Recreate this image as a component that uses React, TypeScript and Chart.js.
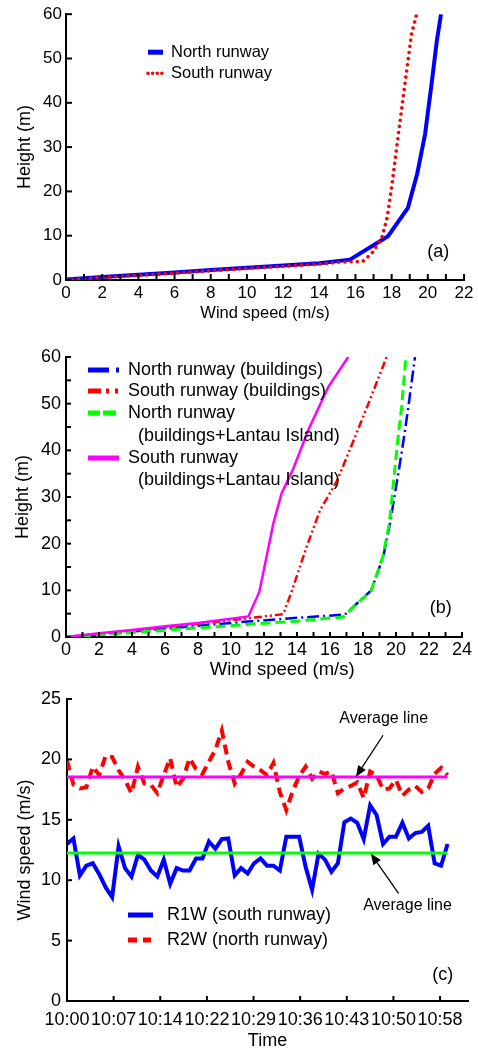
import React, { useEffect, useRef } from 'react';
import { Chart, registerables } from 'chart.js';

Chart.register(...registerables);

const FONT = '"Liberation Sans", Arial, Helvetica, sans-serif';

// ---------- Panel (a) ----------
const northSpeedA = [0, 2, 4, 6, 8, 10, 12, 14, 15.7, 17.8, 18.9, 19.42, 19.85, 20.2, 20.5, 20.73];
const northHeightA = [0.1, 0.7, 1.2, 1.7, 2.25, 2.75, 3.25, 3.8, 4.6, 9.9, 16.3, 24.1, 33, 44, 54, 60];
const southSpeedA = [0, 2, 4, 6, 8, 10, 12, 14, 15, 16.4, 16.9, 17.45, 17.75, 18.0, 18.28, 18.55, 18.85, 19.1, 19.38];
const southHeightA = [0, 0.55, 1.05, 1.55, 2.1, 2.6, 3.1, 3.6, 4.0, 4.2, 6.0, 9.4, 14, 21, 30, 38.5, 48, 55.5, 60];

// ---------- Panel (b) ----------
const northBldSpeed = [0, 4, 8, 11, 14, 16.9, 18.5, 19.23, 19.64, 19.9, 20.14, 20.45, 20.75, 21.15];
const northBldHeight = [0, 1.2, 2.4, 3.3, 4.1, 4.8, 10, 17.2, 24.4, 30, 35, 42, 49.3, 60];
const southBldSpeed = [0, 4, 8, 11, 13.17, 13.64, 14.59, 15.4, 16.4, 17.2, 18.42, 19.43];
const southBldHeight = [0, 1.4, 2.8, 4.0, 4.9, 9.4, 19.4, 27.2, 33.3, 40.1, 50.8, 60];
const northLantauSpeed = [0, 4, 8, 11, 14, 16.8, 18.5, 19.2, 19.6, 19.9, 20.1, 20.34, 20.6];
const northLantauHeight = [0, 0.95, 1.95, 2.7, 3.4, 4.3, 10, 17.2, 24.4, 35, 42, 49.3, 60];
const southLantauSpeed = [0, 2, 4, 6, 8, 11.05, 11.72, 12.57, 13.07, 13.78, 14.69, 15.9, 17.1];
const southLantauHeight = [0, 0.8, 1.5, 2.3, 3.0, 4.4, 9.7, 24.4, 30.8, 36.1, 44.4, 53.6, 60];

// ---------- Panel (c) ----------
const minutesC = [
  0, 1, 2, 3, 4, 5, 6, 7, 8, 9, 10, 11, 12, 13, 14, 15, 16, 17, 18, 19,
  20, 21, 22, 23, 24, 25, 26, 27, 28, 29, 30, 31, 32, 33, 34, 35, 36, 37, 38, 39,
  40, 41, 42, 43, 44, 45, 46, 47, 48, 49, 50, 51, 52, 53, 54, 55, 56, 57, 58, 59,
];
const r1wSpeed = [
  13.0, 13.45, 10.4, 11.2, 11.4, 10.5, 9.4, 8.6, 12.8, 11.0,
  10.3, 12.1, 11.7, 10.8, 10.3, 11.7, 9.7, 11.0, 10.8, 10.8,
  11.8, 11.8, 13.2, 12.6, 13.4, 13.45, 10.4, 11.0, 10.55, 11.4,
  11.8, 11.2, 11.2, 10.8, 13.6, 13.6, 13.6, 11.1, 9.2, 12.2,
  11.7, 10.7, 11.4, 14.8, 15.1, 14.75, 13.4, 16.2, 15.4, 13.0,
  13.6, 13.6, 14.75, 13.45, 13.9, 14.0, 14.5, 11.4, 11.2, 13.0,
];
const r2wSpeed = [
  19.9, 17.9, 17.6, 17.7, 19.4, 18.7, 20.3, 20.2, 19.1, 18.3,
  17.2, 19.4, 18.0, 17.9, 17.2, 18.7, 20.1, 17.7, 18.4, 20.1,
  19.2, 18.8, 19.8, 20.8, 22.4, 19.8, 18.0, 18.8, 19.8, 19.4,
  19.1, 18.7, 19.7, 17.3, 15.8, 17.4, 18.6, 19.4, 18.4, 19.0,
  18.8, 19.0, 17.2, 17.6, 17.8, 18.1, 16.8, 19.0, 18.7, 17.5,
  17.6, 18.3, 17.0, 17.5, 17.8, 17.3, 17.6, 18.8, 19.3, 18.7,
];
const averageR1W = 12.25;
const averageR2W = 18.55;
const averageSpan = [0, 59];
const timeTickMinutes = [0, 7.23, 14.46, 21.69, 28.92, 36.15, 43.38, 50.61, 57.84];
const timeTickLabels = ['10:00', '10:07', '10:14', '10:22', '10:29', '10:36', '10:43', '10:50', '10:58'];

const pts = (xs: number[], ys: number[]) => xs.map((x, i) => ({ x, y: ys[i] }));

// ---------- plugin: inward ticks, legends, panel labels, annotations ----------
type Sample = { color: string; width: number; dash: number[]; cap?: CanvasLineCap };
type Row = { text: string; indent?: number; sample?: Sample };
type Decor = {
  tickLen: number;
  legend?: { fontSize: number; sampleStart: number; sampleEnd: number; textStart: number; rowOffsets: number[]; rows: Row[] };
  texts?: { text: string; x: number; y: number; size: number }[];
  arrows?: { x1: number; y1: number; x2: number; y2: number }[];
};

const drawInwardTicks = (chart: any, len: number) => {
  const ctx: CanvasRenderingContext2D = chart.ctx;
  const area = chart.chartArea;
  const xs = chart.scales.x;
  const ys = chart.scales.y;
  ctx.save();
  ctx.setLineDash([]);
  ctx.strokeStyle = '#000';
  ctx.lineWidth = 2;
  ctx.lineCap = 'butt';
  for (const t of xs.ticks) {
    const p = xs.getPixelForValue(Number(t.value));
    ctx.beginPath();
    ctx.moveTo(p, area.bottom);
    ctx.lineTo(p, area.bottom - len);
    ctx.stroke();
  }
  for (const t of ys.ticks) {
    const p = ys.getPixelForValue(Number(t.value));
    ctx.beginPath();
    ctx.moveTo(area.left, p);
    ctx.lineTo(area.left + len, p);
    ctx.stroke();
  }
  ctx.restore();
};

const makeDecor = (d: Decor) => ({
  id: 'panelDecor',
  afterDraw(chart: any) {
    drawInwardTicks(chart, d.tickLen);
    const { ctx, chartArea } = chart;
    const xs = chart.scales.x;
    const ys = chart.scales.y;
    ctx.save();
    ctx.fillStyle = '#000';
    ctx.textBaseline = 'middle';
    if (d.legend) {
      const L = d.legend;
      ctx.font = `${L.fontSize}px ${FONT}`;
      ctx.textAlign = 'left';
      L.rows.forEach((r, i) => {
        const y = chartArea.top + L.rowOffsets[i];
        if (r.sample) {
          ctx.beginPath();
          ctx.strokeStyle = r.sample.color;
          ctx.lineWidth = r.sample.width;
          ctx.lineCap = r.sample.cap || 'butt';
          ctx.setLineDash(r.sample.dash);
          ctx.moveTo(chartArea.left + L.sampleStart, y);
          ctx.lineTo(chartArea.left + L.sampleEnd, y);
          ctx.stroke();
          ctx.setLineDash([]);
          ctx.lineCap = 'butt';
        }
        ctx.fillStyle = '#000';
        ctx.fillText(r.text, chartArea.left + L.textStart + (r.indent || 0), y);
      });
    }
    (d.texts || []).forEach((t) => {
      ctx.font = `${t.size}px ${FONT}`;
      ctx.textAlign = 'center';
      ctx.fillStyle = '#000';
      ctx.fillText(t.text, xs.getPixelForValue(t.x), ys.getPixelForValue(t.y));
    });
    (d.arrows || []).forEach((a) => {
      const x1 = xs.getPixelForValue(a.x1);
      const y1 = ys.getPixelForValue(a.y1);
      const x2 = xs.getPixelForValue(a.x2);
      const y2 = ys.getPixelForValue(a.y2);
      const ang = Math.atan2(y2 - y1, x2 - x1);
      const hl = 11;
      const hw = 4.5;
      const bx = x2 - hl * Math.cos(ang);
      const by = y2 - hl * Math.sin(ang);
      ctx.strokeStyle = '#000';
      ctx.lineWidth = 1.3;
      ctx.beginPath();
      ctx.moveTo(x1, y1);
      ctx.lineTo(bx, by);
      ctx.stroke();
      ctx.beginPath();
      ctx.moveTo(x2, y2);
      ctx.lineTo(bx + hw * Math.sin(ang), by - hw * Math.cos(ang));
      ctx.lineTo(bx - hw * Math.sin(ang), by + hw * Math.cos(ang));
      ctx.closePath();
      ctx.fill();
    });
    ctx.restore();
  },
});

const axisBase = (size: number, pad: number) => ({
  type: 'linear' as const,
  grid: { display: false, drawTicks: false },
  border: { display: true, color: '#000', width: 2 },
  ticks: { autoSkip: false, maxRotation: 0, minRotation: 0, padding: pad, color: '#000', font: { family: FONT, size } },
});

// ---------- configs ----------
const configA = (): any => ({
  type: 'line',
  data: {
    datasets: [
      {
        label: 'South runway', data: pts(southSpeedA, southHeightA), borderColor: '#ff0000',
        borderWidth: 3.6, borderDash: [0.01, 6.2], borderCapStyle: 'round', pointRadius: 0, order: 0,
      },
      {
        label: 'North runway', data: pts(northSpeedA, northHeightA), borderColor: '#0000ff',
        borderWidth: 4, pointRadius: 0, order: 1,
      },
    ],
  },
  options: {
    animation: false, responsive: false, maintainAspectRatio: false,
    layout: { padding: { left: 0, right: 14, top: 14, bottom: 0 } },
    plugins: { legend: { display: false }, tooltip: { enabled: false } },
    scales: {
      x: {
        ...axisBase(17, 3), min: 0, max: 22,
        ticks: { ...axisBase(17, 3).ticks, stepSize: 1, callback: (v: number) => (v % 2 === 0 ? String(v) : '') },
        title: { display: true, text: 'Wind speed (m/s)', color: '#000', font: { family: FONT, size: 16.5 }, padding: { top: 0, bottom: 7 } },
        afterFit: (s: any) => { s.height = 50; },
      },
      y: {
        ...axisBase(17, 4), min: 0, max: 60,
        ticks: { ...axisBase(17, 4).ticks, stepSize: 10 },
        title: { display: true, text: 'Height (m)', color: '#000', font: { family: FONT, size: 18 }, padding: { top: 14, bottom: 0 } },
        afterFit: (s: any) => { s.width = 66; },
      },
    },
  },
  plugins: [
    makeDecor({
      tickLen: 6,
      legend: {
        fontSize: 16.5, sampleStart: 82, sampleEnd: 97, textStart: 105, rowOffsets: [38, 59],
        rows: [
          { text: 'North runway', sample: { color: '#0000ff', width: 5, dash: [] } },
          { text: 'South runway', sample: { color: '#ff0000', width: 3.6, dash: [0.01, 4.6], cap: 'round' } },
        ],
      },
      texts: [{ text: '(a)', x: 20.58, y: 6.25, size: 18 }],
    }),
  ],
});

const configB = (): any => ({
  type: 'line',
  data: {
    datasets: [
      {
        label: 'South runway (buildings+Lantau Island)', data: pts(southLantauSpeed, southLantauHeight),
        borderColor: '#ff00ff', borderWidth: 2.5, pointRadius: 0, order: 0,
      },
      {
        label: 'North runway (buildings+Lantau Island)', data: pts(northLantauSpeed, northLantauHeight),
        borderColor: '#00ff00', borderWidth: 3, borderDash: [10, 5], pointRadius: 0, order: 1,
      },
      {
        label: 'South runway (buildings)', data: pts(southBldSpeed, southBldHeight),
        borderColor: '#ff0000', borderWidth: 2.5, borderDash: [8, 3, 2, 3, 2, 3], pointRadius: 0, order: 2,
      },
      {
        label: 'North runway (buildings)', data: pts(northBldSpeed, northBldHeight),
        borderColor: '#0000ff', borderWidth: 2.5, borderDash: [12, 4, 2, 4], pointRadius: 0, order: 3,
      },
    ],
  },
  options: {
    animation: false, responsive: false, maintainAspectRatio: false,
    layout: { padding: { left: 0, right: 16, top: 27, bottom: 0 } },
    plugins: { legend: { display: false }, tooltip: { enabled: false } },
    scales: {
      x: {
        ...axisBase(18, 2), min: 0, max: 24,
        ticks: { ...axisBase(18, 2).ticks, stepSize: 1, callback: (v: number) => (v % 2 === 0 ? String(v) : '') },
        title: { display: false, text: 'Wind speed (m/s)' },
        afterFit: (s: any) => { s.height = 43; },
      },
      y: {
        ...axisBase(18, 5), min: 0, max: 60,
        ticks: { ...axisBase(18, 5).ticks, stepSize: 5, callback: (v: number) => (v % 10 === 0 ? String(v) : '') },
        title: { display: true, text: 'Height (m)', color: '#000', font: { family: FONT, size: 18 }, padding: { top: 12, bottom: 0 } },
        afterFit: (s: any) => { s.width = 66; },
      },
    },
  },
  plugins: [
    makeDecor({
      tickLen: 5,
      legend: {
        fontSize: 18, sampleStart: 22, sampleEnd: 53, textStart: 62, rowOffsets: [13, 34, 56, 79, 101, 123],
        rows: [
          { text: 'North runway (buildings)', sample: { color: '#0000ff', width: 5, dash: [21, 7, 3, 100] } },
          { text: 'South runway (buildings)', sample: { color: '#ff0000', width: 5, dash: [13, 5, 3, 6, 3, 100] } },
          { text: 'North runway', sample: { color: '#00ff00', width: 5, dash: [12, 3, 13, 100] } },
          { text: '(buildings+Lantau Island)', indent: 10 },
          { text: 'South runway', sample: { color: '#ff00ff', width: 5, dash: [] } },
          { text: '(buildings+Lantau Island)', indent: 10 },
        ],
      },
      texts: [
        { text: '(b)', x: 22.71, y: 6.15, size: 18 },
        { text: 'Wind speed (m/s)', x: 13.1, y: -7.0, size: 18.5 },
      ],
    }),
  ],
});

const configC = (): any => ({
  type: 'line',
  data: {
    datasets: [
      {
        label: 'Average R2W', data: pts(averageSpan, [averageR2W, averageR2W]),
        borderColor: '#ff00ff', borderWidth: 3, pointRadius: 0, order: 0,
      },
      {
        label: 'Average R1W', data: pts(averageSpan, [averageR1W, averageR1W]),
        borderColor: '#00ff00', borderWidth: 3, pointRadius: 0, order: 1,
      },
      {
        label: 'R1W (south runway)', data: pts(minutesC, r1wSpeed),
        borderColor: '#0000ff', borderWidth: 4, pointRadius: 0, order: 2,
      },
      {
        label: 'R2W (north runway)', data: pts(minutesC, r2wSpeed),
        borderColor: '#ff0000', borderWidth: 4, borderDash: [10, 6], pointRadius: 0, order: 3,
      },
    ],
  },
  options: {
    animation: false, responsive: false, maintainAspectRatio: false,
    layout: { padding: { left: 0, right: 10, top: 19, bottom: 0 } },
    plugins: { legend: { display: false }, tooltip: { enabled: false } },
    scales: {
      x: {
        ...axisBase(18, 8), min: 0, max: 62.17,
        afterBuildTicks: (s: any) => { s.ticks = timeTickMinutes.map((v) => ({ value: v })); },
        ticks: { ...axisBase(18, 8).ticks, callback: (_v: number, i: number) => timeTickLabels[i] },
        title: { display: true, text: 'Time', color: '#000', font: { family: FONT, size: 18 }, padding: { top: 0, bottom: 0 } },
        afterFit: (s: any) => { s.height = 51; },
      },
      y: {
        ...axisBase(18, 6), min: 0, max: 25,
        ticks: { ...axisBase(18, 6).ticks, stepSize: 5 },
        title: { display: true, text: 'Wind speed (m/s)', color: '#000', font: { family: FONT, size: 18 }, padding: { top: 14, bottom: 0 } },
        afterFit: (s: any) => { s.width = 67; },
      },
    },
  },
  plugins: [
    makeDecor({
      tickLen: 5,
      legend: {
        fontSize: 18, sampleStart: 61, sampleEnd: 86, textStart: 100, rowOffsets: [216, 241],
        rows: [
          { text: 'R1W (south runway)', sample: { color: '#0000ff', width: 5, dash: [] } },
          { text: 'R2W (north runway)', sample: { color: '#ff0000', width: 5, dash: [9, 6, 8, 100] } },
        ],
      },
      texts: [
        { text: 'Average line', x: 49.1, y: 23.34, size: 16 },
        { text: 'Average line', x: 52.8, y: 7.93, size: 16 },
        { text: '(c)', x: 58.25, y: 2.13, size: 18 },
      ],
      arrows: [
        { x1: 49.0, y1: 22.0, x2: 44.8, y2: 18.56 },
        { x1: 51.4, y1: 8.9, x2: 47.1, y2: 12.2 },
      ],
    }),
  ],
});

export default function App() {
  const refA = useRef<HTMLCanvasElement>(null);
  const refB = useRef<HTMLCanvasElement>(null);
  const refC = useRef<HTMLCanvasElement>(null);

  useEffect(() => {
    const charts: Chart[] = [];
    if (refA.current) charts.push(new Chart(refA.current, configA()));
    if (refB.current) charts.push(new Chart(refB.current, configB()));
    if (refC.current) charts.push(new Chart(refC.current, configC()));
    return () => charts.forEach((c) => c.destroy());
  }, []);

  return (
    <div style={{ position: 'absolute', left: 0, top: 0, width: 478, height: 1052, background: '#fff', overflow: 'hidden' }}>
      <canvas ref={refA} width={478} height={330} style={{ position: 'absolute', left: 0, top: 0 }} />
      <canvas ref={refB} width={478} height={350} style={{ position: 'absolute', left: 0, top: 330 }} />
      <canvas ref={refC} width={478} height={372} style={{ position: 'absolute', left: 0, top: 680 }} />
    </div>
  );
}
